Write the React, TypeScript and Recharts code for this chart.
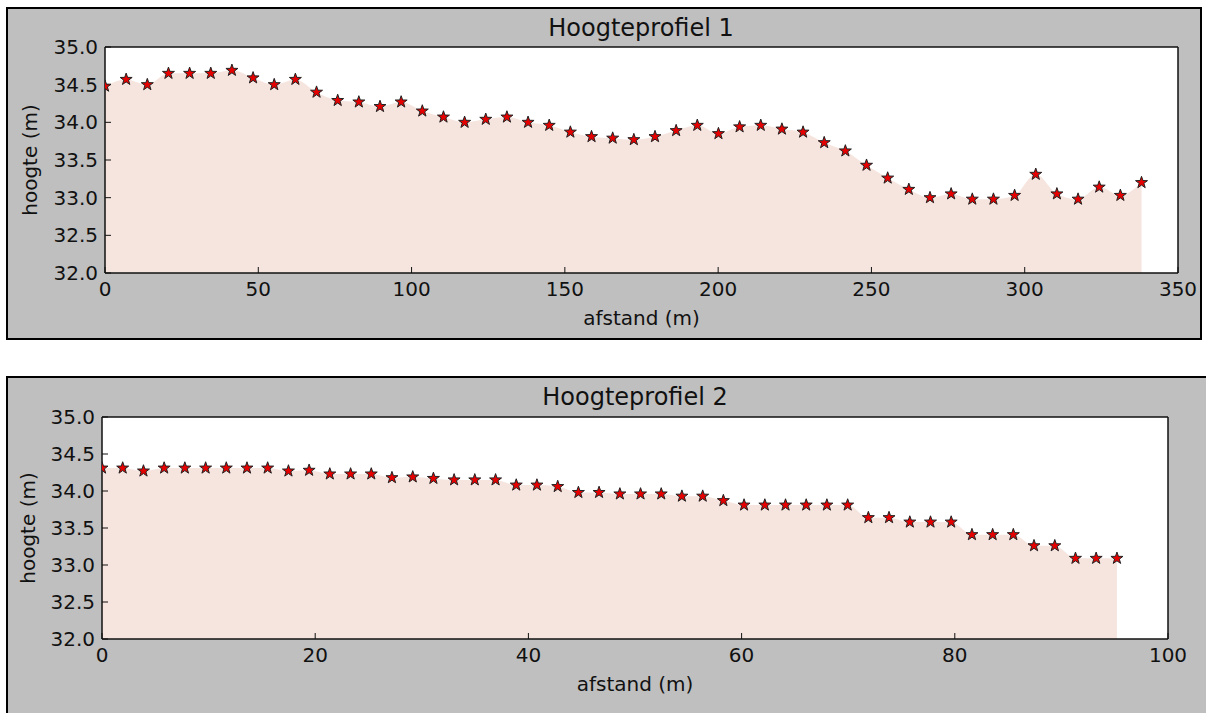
import React from 'react';
import { ComposedChart, Area, Scatter, XAxis, YAxis, CartesianGrid } from 'recharts';

// profiel 1: afstand (m) en hoogte (m)
const afstand1 = [
  0, 6.9, 13.8, 20.7, 27.6, 34.5, 41.4, 48.3, 55.2, 62.1,
  69.0, 75.9, 82.8, 89.7, 96.6, 103.5, 110.4, 117.3, 124.2, 131.1,
  138.0, 144.9, 151.8, 158.7, 165.6, 172.5, 179.4, 186.3, 193.2, 200.1,
  207.0, 213.9, 220.8, 227.7, 234.6, 241.5, 248.4, 255.3, 262.2, 269.1,
  276.0, 282.9, 289.8, 296.7, 303.6, 310.5, 317.4, 324.3, 331.2, 338.1,
];
const hoogte1 = [
  34.48, 34.57, 34.5, 34.65, 34.65, 34.65, 34.69, 34.59, 34.5, 34.57,
  34.4, 34.29, 34.27, 34.21, 34.27, 34.15, 34.07, 34.0, 34.04, 34.07,
  34.0, 33.96, 33.87, 33.81, 33.79, 33.77, 33.81, 33.89, 33.96, 33.85,
  33.94, 33.96, 33.91, 33.87, 33.73, 33.62, 33.43, 33.26, 33.11, 33.0,
  33.05, 32.98, 32.98, 33.03, 33.31, 33.05, 32.98, 33.14, 33.03, 33.2,
];

// profiel 2
const afstand2 = [
  0, 1.94, 3.89, 5.83, 7.77, 9.72, 11.66, 13.6, 15.54, 17.49,
  19.43, 21.37, 23.32, 25.26, 27.2, 29.15, 31.09, 33.03, 34.97, 36.92,
  38.86, 40.8, 42.75, 44.69, 46.63, 48.58, 50.52, 52.46, 54.4, 56.35,
  58.29, 60.23, 62.18, 64.12, 66.06, 68.0, 69.95, 71.89, 73.83, 75.78,
  77.72, 79.66, 81.61, 83.55, 85.49, 87.43, 89.38, 91.32, 93.26, 95.21,
];
const hoogte2 = [
  34.31, 34.31, 34.27, 34.31, 34.31, 34.31, 34.31, 34.31, 34.31, 34.27,
  34.28, 34.23, 34.23, 34.23, 34.18, 34.19, 34.17, 34.15, 34.15, 34.15,
  34.08, 34.08, 34.06, 33.98, 33.98, 33.96, 33.96, 33.96, 33.93, 33.93,
  33.87, 33.81, 33.81, 33.81, 33.81, 33.81, 33.81, 33.64, 33.64, 33.58,
  33.58, 33.58, 33.41, 33.41, 33.41, 33.26, 33.26, 33.09, 33.09, 33.09,
];

const xTicks1 = [0, 50, 100, 150, 200, 250, 300, 350];
const xTicks2 = [0, 20, 40, 60, 80, 100];
const yTicks = [32, 32.5, 33, 33.5, 34, 34.5, 35];

const FONT = '"DejaVu Sans", sans-serif';
const INK = '#111';
const FILL = '#f6e5df';

// matplotlib-achtige ster als marker
const Star = (props: any) => {
  const { cx, cy } = props;
  if (cx == null || cy == null) return null;
  const pts: string[] = [];
  for (let i = 0; i < 10; i++) {
    const r = i % 2 === 0 ? 6.3 : 2.5;
    const a = -Math.PI / 2 + (i * Math.PI) / 5;
    pts.push(`${cx + r * Math.cos(a)},${cy + r * Math.sin(a)}`);
  }
  return <polygon points={pts.join(' ')} fill="#e60000" stroke="#222" strokeWidth={1} />;
};

interface ProfileProps {
  title: string;
  afstand: number[];
  hoogte: number[];
  xMax: number;
  xTicks: number[];
  top: number;
  height: number;
  margin: { top: number; right: number; bottom: number; left: number };
  titleTop: number;
  titleCenter: number;
  yLabelOffset: number;
  xLabelOffset: number;
}

function Profile({
  title,
  afstand,
  hoogte,
  xMax,
  xTicks,
  top,
  height,
  margin,
  titleTop,
  titleCenter,
  yLabelOffset,
  xLabelOffset,
}: ProfileProps) {
  const data = afstand.map((x, i) => ({ x, h: hoogte[i] }));
  const tickStyle = { fill: INK, fontSize: 20, fontFamily: FONT };
  const spine = { stroke: INK, strokeWidth: 1.5 };

  return (
    <>
      <div
        style={{
          position: 'absolute',
          left: titleCenter - 300,
          top: titleTop,
          width: 600,
          textAlign: 'center',
          fontFamily: FONT,
          fontSize: 24,
          lineHeight: '24px',
          color: INK,
        }}
      >
        {title}
      </div>
      <div style={{ position: 'absolute', left: 0, top }}>
        <ComposedChart width={1206} height={height} data={data} margin={margin}>
          <CartesianGrid xAxisId="b" yAxisId="l" horizontal={false} vertical={false} fill="#fff" stroke="none" />
          <Area
            xAxisId="b"
            yAxisId="l"
            type="monotone"
            dataKey="h"
            fill={FILL}
            fillOpacity={1}
            stroke="none"
            isAnimationActive={false}
          />
          <Scatter xAxisId="t" yAxisId="r" dataKey="h" shape={<Star />} isAnimationActive={false} />
          <XAxis
            xAxisId="b"
            dataKey="x"
            type="number"
            domain={[0, xMax]}
            ticks={xTicks}
            interval={0}
            allowDataOverflow
            height={30}
            tickSize={-6}
            tickMargin={15}
            axisLine={spine}
            tickLine={{ stroke: INK }}
            tick={tickStyle}
            label={{ value: 'afstand (m)', position: 'bottom', offset: xLabelOffset, fill: INK, fontSize: 20, fontFamily: FONT }}
          />
          <XAxis
            xAxisId="t"
            orientation="top"
            dataKey="x"
            type="number"
            domain={[0, xMax]}
            ticks={xTicks}
            interval={0}
            allowDataOverflow
            height={1}
            tickSize={-6}
            axisLine={spine}
            tickLine={{ stroke: INK }}
            tick={false}
          />
          <YAxis
            yAxisId="l"
            type="number"
            domain={[32, 35]}
            ticks={yTicks}
            interval={0}
            allowDataOverflow
            width={60}
            tickSize={-6}
            tickMargin={13}
            axisLine={spine}
            tickLine={{ stroke: INK }}
            tick={tickStyle}
            tickFormatter={(v: number) => v.toFixed(1)}
            label={{
              value: 'hoogte (m)',
              angle: -90,
              position: 'insideLeft',
              offset: yLabelOffset,
              fill: INK,
              fontSize: 20,
              fontFamily: FONT,
              style: { textAnchor: 'middle' },
            }}
          />
          <YAxis
            yAxisId="r"
            orientation="right"
            type="number"
            domain={[32, 35]}
            ticks={yTicks}
            interval={0}
            allowDataOverflow
            width={1}
            tickSize={-6}
            axisLine={spine}
            tickLine={{ stroke: INK }}
            tick={false}
          />
        </ComposedChart>
      </div>
    </>
  );
}

export default function App() {
  return (
    <div
      style={{
        position: 'absolute',
        left: 0,
        top: 0,
        width: 1206,
        height: 713,
        overflow: 'hidden',
        background: '#fff',
      }}
    >
      <div
        style={{
          position: 'absolute',
          left: 6,
          top: 7,
          width: 1196,
          height: 333,
          boxSizing: 'border-box',
          border: '2px solid #000',
          background: '#bfbfbf',
        }}
      />
      <div
        style={{
          position: 'absolute',
          left: 6,
          top: 376,
          width: 1220,
          height: 360,
          boxSizing: 'border-box',
          border: '2px solid #000',
          background: '#bfbfbf',
        }}
      />
      <Profile
        title="Hoogteprofiel 1"
        afstand={afstand1}
        hoogte={hoogte1}
        xMax={350}
        xTicks={xTicks1}
        top={0}
        height={345}
        margin={{ top: 46, right: 27, bottom: 42, left: 45 }}
        titleTop={16}
        titleCenter={641}
        yLabelOffset={-15}
        xLabelOffset={8}
      />
      <Profile
        title="Hoogteprofiel 2"
        afstand={afstand2}
        hoogte={hoogte2}
        xMax={100}
        xTicks={xTicks2}
        top={370}
        height={343}
        margin={{ top: 46, right: 37, bottom: 44, left: 42 }}
        titleTop={385}
        titleCenter={635}
        yLabelOffset={-14}
        xLabelOffset={8}
      />
    </div>
  );
}
